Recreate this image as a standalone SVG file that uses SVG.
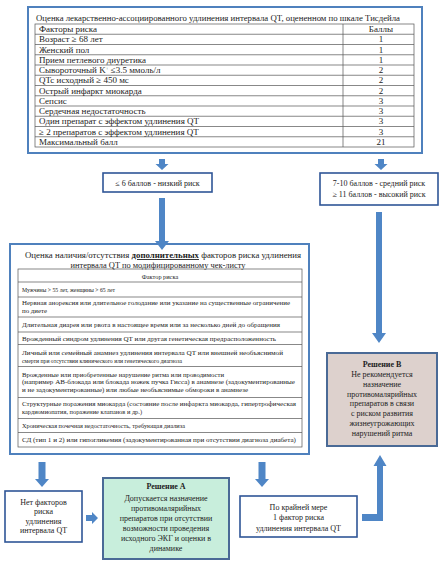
<svg xmlns="http://www.w3.org/2000/svg" width="442" height="568" viewBox="0 0 442 568">
<style>
text{font-family:"Liberation Serif","Times New Roman",serif;fill:#222}
.t9{font-size:9px}
.t8{font-size:8px}
.t6{font-size:6.3px}
.c{text-anchor:middle}
.b{font-weight:bold}
.outer{fill:#fff;stroke:#4f81bd;stroke-width:2}
.grid{fill:none;stroke:#555;stroke-width:0.7}
.box{fill:#fff;stroke:#2f5597;stroke-width:1.6}
.arrow{fill:#4f86c6}
.decA{fill:#c8eedc;stroke:#4a6a96;stroke-width:2}
.decB{fill:#ddd1cd;stroke:#4a6a96;stroke-width:2}
</style>
<rect width="442" height="568" fill="#fff"/>

<g id="tisdale">
<rect class="outer" x="28" y="7" width="394" height="146"/>
<text class="t9" x="36" y="21" textLength="364" lengthAdjust="spacingAndGlyphs">Оценка лекарственно-ассоциированного удлинения интервала QT, оцененном по шкале Тисдейла</text>
<rect class="grid" x="35" y="24" width="379" height="123"/>
<line class="grid" x1="343" y1="24" x2="343" y2="147"/>
<g class="grid">
<line x1="35" y1="34.25" x2="414" y2="34.25"/><line x1="35" y1="44.5" x2="414" y2="44.5"/><line x1="35" y1="54.75" x2="414" y2="54.75"/><line x1="35" y1="65" x2="414" y2="65"/><line x1="35" y1="75.25" x2="414" y2="75.25"/><line x1="35" y1="85.5" x2="414" y2="85.5"/><line x1="35" y1="95.75" x2="414" y2="95.75"/><line x1="35" y1="106" x2="414" y2="106"/><line x1="35" y1="116.25" x2="414" y2="116.25"/><line x1="35" y1="126.5" x2="414" y2="126.5"/><line x1="35" y1="136.75" x2="414" y2="136.75"/>
</g>
<text class="t9" x="39" y="32">Факторы риска</text><text class="t9 c" x="381" y="32">Баллы</text>
<text class="t9" x="39" y="42.3">Возраст ≥ 68 лет</text><text class="t9 c" x="381" y="42.3">1</text>
<text class="t9" x="39" y="52.5">Женский пол</text><text class="t9 c" x="381" y="52.5">1</text>
<text class="t9" x="39" y="62.8">Прием петлевого диуретика</text><text class="t9 c" x="381" y="62.8">1</text>
<text class="t9" x="39" y="73">Сывороточный K<tspan font-size="5" dy="-3">+</tspan><tspan dy="3"> ≤3.5 ммоль/л</tspan></text><text class="t9 c" x="381" y="73">2</text>
<text class="t9" x="39" y="83.3">QTc исходный  ≥ 450 мс</text><text class="t9 c" x="381" y="83.3">2</text>
<text class="t9" x="39" y="93.5">Острый инфаркт миокарда</text><text class="t9 c" x="381" y="93.5">2</text>
<text class="t9" x="39" y="103.8">Сепсис</text><text class="t9 c" x="381" y="103.8">3</text>
<text class="t9" x="39" y="114">Сердечная недостаточность</text><text class="t9 c" x="381" y="114">3</text>
<text class="t9" x="39" y="124.3">Один препарат с эффектом удлинения QT</text><text class="t9 c" x="381" y="124.3">3</text>
<text class="t9" x="39" y="134.5">≥ 2 препаратов с эффектом удлинения QT</text><text class="t9 c" x="381" y="134.5">3</text>
<text class="t9" x="39" y="144.8">Максимальный балл</text><text class="t9 c" x="381" y="144.8">21</text>
</g>

<g id="low-risk">
<rect class="box" x="103" y="173" width="109" height="19"/>
<text class="t8 c" x="157.5" y="185.5">≤ 6 баллов - низкий риск</text>
</g>

<g id="high-risk">
<rect class="box" x="320" y="173" width="118" height="32"/>
<text class="t8 c" x="379" y="186">7-10 баллов - средний риск</text>
<text class="t8 c" x="379" y="197">≥ 11 баллов - высокий риск</text>
</g>

<g id="checklist">
<rect class="outer" x="10" y="244" width="299" height="210"/>
<text class="t9 c" x="163" y="258" textLength="276" lengthAdjust="spacingAndGlyphs">Оценка наличия/отсутствия <tspan font-weight="bold" text-decoration="underline">дополнительных</tspan> факторов риска удлинения</text>
<text class="t9 c" x="158" y="267.5" textLength="175" lengthAdjust="spacingAndGlyphs">интервала QT по модифицированному чек-листу</text>
<rect class="grid" x="18" y="269" width="284" height="178"/>
<g class="grid">
<line x1="18" y1="282" x2="302" y2="282"/><line x1="18" y1="297" x2="302" y2="297"/><line x1="18" y1="317" x2="302" y2="317"/><line x1="18" y1="332" x2="302" y2="332"/><line x1="18" y1="344.5" x2="302" y2="344.5"/><line x1="18" y1="366.5" x2="302" y2="366.5"/><line x1="18" y1="397.5" x2="302" y2="397.5"/><line x1="18" y1="418.5" x2="302" y2="418.5"/><line x1="18" y1="432.5" x2="302" y2="432.5"/>
</g>
<text class="t6 c" x="160" y="279">Фактор риска</text>
<text class="t6" x="22" y="291.5" textLength="93" lengthAdjust="spacingAndGlyphs">Мужчины &gt; 55 лет, женщины &gt; 65 лет</text>
<text class="t6" x="22" y="305" textLength="268" lengthAdjust="spacingAndGlyphs">Нервная анорексия или длительное голодание или указание на существенные ограничение</text>
<text class="t6" x="22" y="312.5" textLength="25" lengthAdjust="spacingAndGlyphs">по диете</text>
<text class="t6" x="22" y="327" textLength="258" lengthAdjust="spacingAndGlyphs">Длительная диарея или рвота в настоящее время или за несколько дней до обращения</text>
<text class="t6" x="22" y="340.5" textLength="254" lengthAdjust="spacingAndGlyphs">Врожденный синдром удлинения QT или другая генетическая предрасположенность</text>
<text class="t6" x="22" y="354.5" textLength="261" lengthAdjust="spacingAndGlyphs">Личный или семейный анамнез удлинения интервала QT или внешней необъяснимой</text>
<text class="t6" x="22" y="362.5" textLength="160" lengthAdjust="spacingAndGlyphs">смерти при отсутствии клинического или генетического диагноза</text>
<text class="t6" x="22" y="376.5" textLength="202" lengthAdjust="spacingAndGlyphs">Врожденные или приобретенные нарушение ритма или проводимости</text>
<text class="t6" x="22" y="384" textLength="273" lengthAdjust="spacingAndGlyphs">(например АВ-блокада или блокада ножек пучка Гисса) в анамнезе (задокументированные</text>
<text class="t6" x="22" y="391.5" textLength="226" lengthAdjust="spacingAndGlyphs">и не задокументированные) или любые необъяснимые обмороки в анамнезе</text>
<text class="t6" x="22" y="405.5" textLength="274" lengthAdjust="spacingAndGlyphs">Структурные поражения миокарда (состояние после инфаркта миокарда, гипертрофическая</text>
<text class="t6" x="22" y="413.5" textLength="120" lengthAdjust="spacingAndGlyphs">кардиомиопатия, поражение клапанов и др.)</text>
<text class="t6" x="22" y="428" textLength="163" lengthAdjust="spacingAndGlyphs">Хроническая почечная недостаточность, требующая диализа</text>
<text class="t6" x="22" y="441.5" textLength="274" lengthAdjust="spacingAndGlyphs">СД (тип 1 и 2) или гипогликемия (задокументированная при отсутствии диагноза диабета)</text>
</g>

<g id="decision-b">
<rect class="decB" x="327" y="353" width="110" height="93"/>
<text class="t8 c b" x="382" y="366.5">Решение В</text>
<text class="t8 c" x="382" y="377">Не рекомендуется</text>
<text class="t8 c" x="382" y="386.8">назначение</text>
<text class="t8 c" x="382" y="396.6">противомалярийных</text>
<text class="t8 c" x="382" y="406.4">препаратов в связи</text>
<text class="t8 c" x="382" y="416.2">с риском развития</text>
<text class="t8 c" x="382" y="426">жизнеугрожающих</text>
<text class="t8 c" x="382" y="435.8">нарушений ритма</text>
</g>

<g id="no-factors">
<rect class="box" x="5" y="491" width="77" height="51"/>
<text class="t8 c" x="43.5" y="504.5">Нет факторов</text>
<text class="t8 c" x="43.5" y="514">риска</text>
<text class="t8 c" x="43.5" y="523.5">удлинения</text>
<text class="t8 c" x="43.5" y="533">интервала QT</text>
</g>

<g id="decision-a">
<rect class="decA" x="103" y="478" width="126" height="81"/>
<text class="t8 c b" x="166" y="488.5">Решение А</text>
<text class="t8 c" x="166" y="500.5">Допускается назначение</text>
<text class="t8 c" x="166" y="510.5">противомалярийных</text>
<text class="t8 c" x="166" y="520.5">препаратов при отсутствии</text>
<text class="t8 c" x="166" y="530.5">возможности проведения</text>
<text class="t8 c" x="166" y="540.5">исходного ЭКГ и оценки в</text>
<text class="t8 c" x="166" y="551">динамике</text>
</g>

<g id="at-least-one">
<rect class="box" x="240" y="496" width="117" height="41"/>
<text class="t8 c" x="298.5" y="509.5">По крайней мере</text>
<text class="t8 c" x="298.5" y="520">1 фактор риска</text>
<text class="t8 c" x="298.5" y="530.5">удлинения интервала QT</text>
</g>

<g id="connectors">
<polygon class="arrow" points="159,159 165,159 165,164 168.5,164 162,170 155.5,164 159,164"/>
<polygon class="arrow" points="378,159 384,159 384,164 387.5,164 381,170 374.5,164 378,164"/>
<polygon class="arrow" points="159,198 165,198 165,241 169,241 162,250 155,241 159,241"/>
<polygon class="arrow" points="376,212 382,212 382,333 386,333 379,343 372,333 376,333"/>
<polygon class="arrow" points="38.5,462 45.5,462 45.5,479 49,479 42,487 35,479 38.5,479"/>
<polygon class="arrow" points="258.5,462 265.5,462 265.5,479 269,479 262,487 255,479 258.5,479"/>
<polygon class="arrow" points="86,515 92,515 92,512 98,518 92,524 92,521 86,521"/>
<polygon class="arrow" points="362,521 383,521 383,466 386.5,466 380,455 373.5,466 377,466 377,514 362,514"/>
</g>
</svg>
